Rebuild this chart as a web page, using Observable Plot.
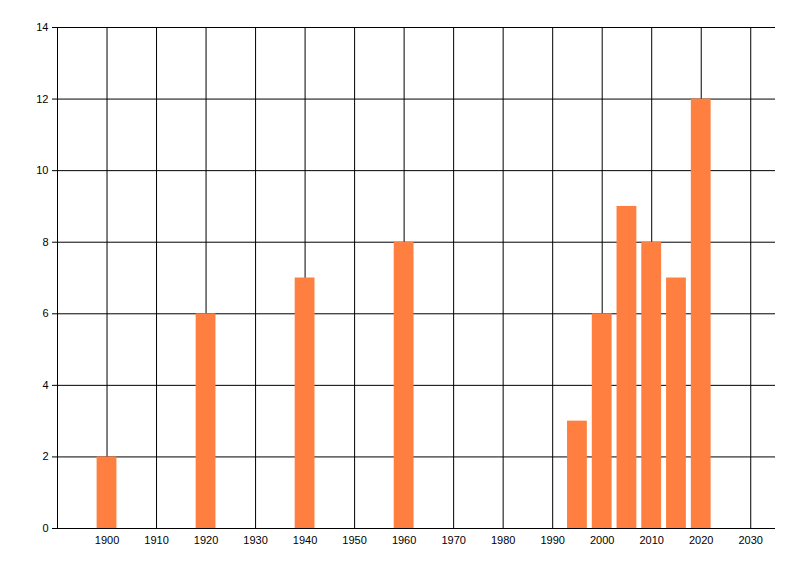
<!DOCTYPE html>
<html>
<head>
<meta charset="utf-8">
<script src="https://cdn.jsdelivr.net/npm/d3@7"></script>
<script src="https://cdn.jsdelivr.net/npm/@observablehq/plot@0.6"></script>
<style>
html, body { margin: 0; padding: 0; background: #fff; }
svg { display: block; }
</style>
</head>
<body>
<div id="chart"></div>
<script>
const years = [1900, 1920, 1940, 1960, 1995, 2000, 2005, 2010, 2015, 2020];
const values = [2, 6, 7, 8, 3, 6, 9, 8, 7, 12];
const xTicks = [1900, 1910, 1920, 1930, 1940, 1950, 1960, 1970, 1980, 1990, 2000, 2010, 2020, 2030];
const yTicks = [0, 2, 4, 6, 8, 10, 12, 14];

const data = years.map((y, i) => ({year: y, value: values[i]}));

const chart = Plot.plot({
  width: 800,
  height: 576,
  marginTop: 27,
  marginBottom: 48,
  marginLeft: 57,
  marginRight: 25,
  style: {fontFamily: "'Liberation Sans', Arial, sans-serif", fontSize: "11px", color: "#000", background: "#fff"},
  x: {domain: [1890, 2035], label: null},
  y: {domain: [0, 14], label: null},
  marks: [
    Plot.ruleX(xTicks, {stroke: "#000", strokeWidth: 1}),
    Plot.ruleY(yTicks.filter(t => t > 0), {stroke: "#000", strokeWidth: 1}),
    Plot.rectY(data, {x1: d => d.year - 2, x2: d => d.year + 2, y: "value", fill: "#FF7F40"}),
    Plot.ruleY([0], {stroke: "#000", strokeWidth: 1}),
    Plot.ruleX([1890], {stroke: "#000", strokeWidth: 1}),
    Plot.axisX({ticks: xTicks, tickSize: 0, tickPadding: 8, tickFormat: d => String(d), label: null}),
    Plot.axisY({ticks: yTicks, tickSize: 5, tickPadding: 4, tickFormat: d => String(d), label: null, stroke: "#000"})
  ]
});
document.getElementById("chart").appendChild(chart);
</script>
</body>
</html>
